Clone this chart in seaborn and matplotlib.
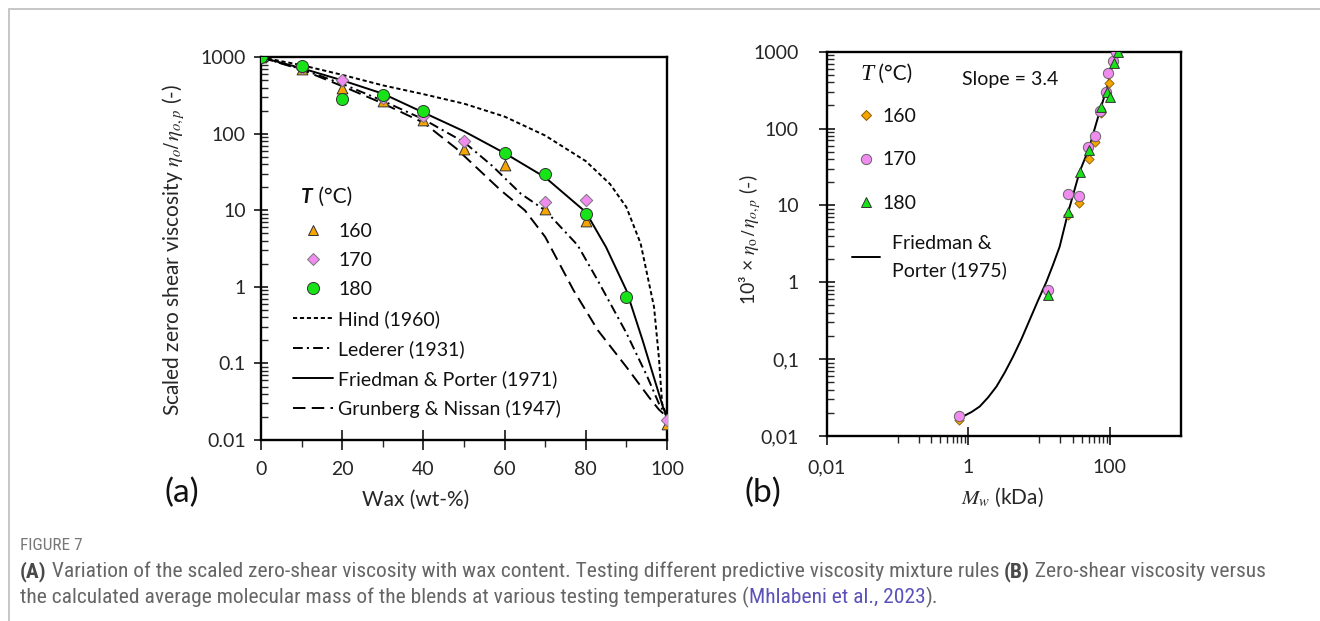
import numpy as np
import pandas as pd
import matplotlib
matplotlib.use("Agg")
import matplotlib.pyplot as plt
import seaborn as sns
from matplotlib.lines import Line2D
from matplotlib.ticker import FixedLocator, FixedFormatter, NullFormatter
from matplotlib import font_manager

# ---------------- data: panel (a) ----------------
wax_160 = [0, 10, 20, 30, 40, 50, 60, 70, 80, 100]
eta_160 = [1000, 700, 400, 270, 150, 64, 39, 10.5, 7.2, 0.016]
wax_170 = [0, 10, 20, 30, 40, 50, 70, 80, 100]
eta_170 = [1000, 720, 510, 293, 172, 81, 12.9, 13.7, 0.018]
wax_180 = [0, 10, 20, 30, 40, 60, 70, 80, 90]
eta_180 = [1000, 776, 284, 325, 200, 56, 29.5, 8.9, 0.73]

hind_x = [0, 10, 20, 30, 40, 50, 60, 70, 80, 86, 90, 93.5, 96.8, 98, 98.8, 100]
hind_y = [1000, 790, 590, 430, 330, 248, 168, 95, 44, 22, 11, 3.7, 0.55, 0.12, 0.03, 0.02]
led_x = [0, 10, 20, 30, 40, 50, 57, 64, 70, 78, 83, 90, 95, 98, 100]
led_y = [1000, 700, 450, 270, 155, 78, 38, 16.5, 10, 3.5, 1.2, 0.25, 0.07, 0.03, 0.02]
fp71_x = [0, 10, 20, 30, 40, 50, 60, 70, 80, 85, 90, 94, 97, 99, 100]
fp71_y = [1000, 720, 500, 335, 190, 108, 56, 27, 9.5, 3.3, 0.9, 0.2, 0.06, 0.027, 0.02]
gn_x = [0, 10, 20, 30, 40, 48, 59, 65, 70, 77, 83, 90, 95.6, 98, 100]
gn_y = [1000, 690, 420, 250, 140, 65, 18.4, 10, 4.5, 0.9, 0.27, 0.09, 0.036, 0.025, 0.02]

# ---------------- data: panel (b) ----------------
mw_160 = [0.74, 25.5, 37, 50, 61, 76, 97]
etb_160 = [0.016, 7.5, 10.7, 40, 66, 158, 395]
mw_170 = [0.74, 13.4, 25.5, 37, 49, 61, 73, 87, 94, 110, 123]
etb_170 = [0.018, 0.80, 14, 13.2, 58, 80, 170, 302, 523, 764, 1000]
mw_180 = [13.4, 25.5, 38, 50, 76, 91, 101, 114, 129]
etb_180 = [0.69, 8.3, 27, 52, 189, 300, 260, 707, 1000]
fp75_x = [0.845, 1.11, 1.45, 1.9, 2.5, 3.27, 4.29, 5.62, 7.36, 9.66, 12.6, 15.7,
          19.5, 25.5, 37.4, 50.6, 71.6, 89, 116, 122]
fp75_y = [0.018, 0.0205, 0.0242, 0.0317, 0.044, 0.067, 0.108, 0.182, 0.324, 0.58,
          1.0, 1.68, 2.9, 7.9, 27.5, 55, 166, 316, 861, 1000]

yt_vals = [0.01, 0.1, 1, 10, 100, 1000]
yt_a = ["0.01", "0.1", "1", "10", "100", "1000"]
yt_b = ["0,01", "0,1", "1", "10", "100", "1000"]
xt_b_vals = [0.01, 1, 100]
xt_b = ["0,01", "1", "100"]
temps = ["160", "170", "180"]

# ---------------- style ----------------
sns.set_theme(style="white")
plt.rcParams["font.family"] = ["Lato", "DejaVu Sans"]
plt.rcParams["mathtext.fontset"] = "stix"
plt.rcParams["lines.scale_dashes"] = False
plt.rcParams["text.color"] = "#111111"

ORANGE = "#f5a400"
PINK = "#f08cf0"
GREEN = "#18e318"
EDGE = "#333333"

W, H = 1320, 621
fig = plt.figure(figsize=(W / 100, H / 100), dpi=100)
fig.patch.set_facecolor("white")
axA = fig.add_axes([261 / W, 1 - 440 / H, 406 / W, 382.7 / H])
axB = fig.add_axes([826.7 / W, 1 - 436 / H, 354 / W, 384.3 / H])

DASH_HIND = (3, 2)
DASH_LED = (7, 3, 1.5, 3)
DASH_GN = (9, 4.5)


def curve(ax, x, y, dashes=None):
    sns.lineplot(x=x, y=y, ax=ax, color="black", lw=1.4, estimator=None, sort=False)
    ln = ax.lines[-1]
    if dashes is not None:
        ln.set_dashes(dashes)
    return ln


# ---- panel (a)
axA.set_yscale("log")
curve(axA, hind_x, hind_y, DASH_HIND)
curve(axA, led_x, led_y, DASH_LED)
curve(axA, fp71_x, fp71_y)
curve(axA, gn_x, gn_y, DASH_GN)
sns.scatterplot(x=wax_160, y=eta_160, ax=axA, marker="^", s=60, color=ORANGE,
                edgecolor=EDGE, linewidth=0.7, zorder=3)
sns.scatterplot(x=wax_170, y=eta_170, ax=axA, marker="D", s=40, color=PINK,
                edgecolor="#777777", linewidth=0.7, zorder=4)
sns.scatterplot(x=wax_180, y=eta_180, ax=axA, marker="o", s=75, color=GREEN,
                edgecolor=EDGE, linewidth=0.7, zorder=5)
axA.set_xlim(0, 100)
axA.set_ylim(0.01, 1000)
axA.xaxis.set_major_locator(FixedLocator([0, 20, 40, 60, 80, 100]))
axA.xaxis.set_minor_locator(FixedLocator([10, 30, 50, 70, 90]))
axA.yaxis.set_major_locator(FixedLocator(yt_vals))
axA.yaxis.set_major_formatter(FixedFormatter(yt_a))
minor_y = [m * 10.0 ** e for e in range(-2, 3) for m in range(2, 10)]
axA.yaxis.set_minor_locator(FixedLocator(minor_y))
axA.yaxis.set_minor_formatter(NullFormatter())
axA.tick_params(axis="y", which="major", direction="inout", length=10, width=1.3,
                pad=6, labelsize=14, left=True)
axA.tick_params(axis="y", which="minor", direction="in", length=5, width=1.0, left=True)
axA.tick_params(axis="x", which="major", direction="inout", length=14, width=1.3,
                pad=8, labelsize=14, bottom=True)
axA.tick_params(axis="x", which="minor", direction="out", length=5, width=1.0, bottom=True)

# ---- panel (b)
axB.set_xscale("log")
axB.set_yscale("log")
curve(axB, fp75_x, fp75_y)
sns.scatterplot(x=mw_160, y=etb_160, ax=axB, marker="D", s=22, color=ORANGE,
                edgecolor="#8a5a00", linewidth=0.6, zorder=3)
sns.scatterplot(x=mw_170, y=etb_170, ax=axB, marker="o", s=55, color=PINK,
                edgecolor="#666666", linewidth=0.7, zorder=4)
sns.scatterplot(x=mw_180, y=etb_180, ax=axB, marker="^", s=50, color=GREEN,
                edgecolor=EDGE, linewidth=0.7, zorder=5)
axB.set_xlim(0.01, 1000)
axB.set_ylim(0.01, 1000)
axB.xaxis.set_major_locator(FixedLocator(xt_b_vals))
axB.xaxis.set_major_formatter(FixedFormatter(xt_b))
minor_x = [m * 0.1 for m in range(1, 10)] + [m * 10.0 for m in range(1, 10)]
axB.xaxis.set_minor_locator(FixedLocator(minor_x))
axB.xaxis.set_minor_formatter(NullFormatter())
axB.yaxis.set_major_locator(FixedLocator(yt_vals))
axB.yaxis.set_major_formatter(FixedFormatter(yt_b))
axB.yaxis.set_minor_locator(FixedLocator(minor_y))
axB.yaxis.set_minor_formatter(NullFormatter())
axB.tick_params(axis="y", which="major", direction="inout", length=12, width=1.3,
                pad=14, labelsize=14, left=True)
axB.tick_params(axis="y", which="minor", direction="in", length=5, width=1.0, left=True)
axB.tick_params(axis="x", which="major", direction="inout", length=13, width=1.3,
                pad=10, labelsize=14, bottom=True)
axB.tick_params(axis="x", which="minor", direction="out", length=5, width=1.0, bottom=True)

for ax in (axA, axB):
    ax.set_facecolor("white")
    for sp in ax.spines.values():
        sp.set_visible(True)
        sp.set_color("black")
        sp.set_linewidth(1.7)

# ---- axis labels
axA.set_xlabel("Wax (wt-%)", fontsize=15, va="center", ha="center")
axA.xaxis.set_label_coords(416 / W, 1 - 500 / H, transform=fig.transFigure)
axA.set_ylabel(r"Scaled zero shear viscosity $\eta_o/\,\eta_{o,p}$ (-)", fontsize=15,
               va="center", ha="center")
axA.yaxis.set_label_coords(174 / W, 1 - 250 / H, transform=fig.transFigure)
axB.set_xlabel(r"$M_w$ (kDa)", fontsize=15, va="center", ha="center")
axB.xaxis.set_label_coords(1002 / W, 1 - 497 / H, transform=fig.transFigure)
axB.set_ylabel(r"10³ × $\eta_{\mathrm{o}}\,/\,\eta_{o,p}$ (-)", fontsize=14,
               va="center", ha="center")
axB.yaxis.set_label_coords(750 / W, 1 - 240 / H, transform=fig.transFigure)

fig.text(182 / W, 1 - 493 / H, "(a)", fontsize=24, ha="center", va="center")
fig.text(763 / W, 1 - 493 / H, "(b)", fontsize=24, ha="center", va="center")

# ---- legends
def mk(marker, color, ms, edge=EDGE):
    return Line2D([], [], ls="none", marker=marker, ms=ms, mfc=color, mec=edge, mew=0.7)


def ln(dashes=None):
    l = Line2D([], [], color="black", lw=1.4)
    if dashes is not None:
        l.set_dashes(dashes)
    return l


hA = [mk("^", ORANGE, 7.7), mk("D", PINK, 6.3, "#777777"), mk("o", GREEN, 8.7),
      ln(DASH_HIND), ln(DASH_LED), ln(), ln(DASH_GN)]
lA = temps + ["Hind (1960)", "Lederer (1931)", "Friedman & Porter (1971)",
              "Grunberg & Nissan (1947)"]
legA = axA.legend(hA, lA, loc="upper left", bbox_to_anchor=(293 / W, 1 - 223 / H),
                  bbox_transform=fig.transFigure, frameon=False, fontsize=14,
                  handlelength=2.06, handletextpad=0.28, labelspacing=0.62,
                  borderpad=0, borderaxespad=0)

hB1 = [mk("D", ORANGE, 4.7, "#8a5a00"), mk("o", PINK, 7.4, "#666666"), mk("^", GREEN, 7.1)]
legB1 = axB.legend(hB1, temps, loc="upper left", bbox_to_anchor=(856 / W, 1 - 108 / H),
                   bbox_transform=fig.transFigure, frameon=False, fontsize=14,
                   handlelength=1.0, handletextpad=0.36, labelspacing=1.36,
                   borderpad=0, borderaxespad=0)
axB.add_artist(legB1)
legB2 = axB.legend([ln()], ["Friedman &\nPorter (1975)"], loc="upper left",
                   bbox_to_anchor=(852 / W, 1 - 235 / H), bbox_transform=fig.transFigure,
                   frameon=False, fontsize=14, handlelength=1.44, handletextpad=0.6,
                   borderpad=0, borderaxespad=0)
for t in legB2.get_texts():
    t.set_linespacing(1.6)

renderer = fig.canvas.get_renderer()


def seq(x, y, pieces):
    for s, kw in pieces:
        t = fig.text(x / W, 1 - y / H, s, va="baseline", ha="left", **kw)
        x += t.get_window_extent(renderer).width
    return x


seq(301, 203, [("T", dict(fontsize=15, fontweight="bold", fontstyle="italic")),
               (" (°C)", dict(fontsize=15))])
seq(860, 80, [("T", dict(fontsize=17, family=["Liberation Serif", "DejaVu Serif"],
                         fontstyle="italic")),
              (" (°C)", dict(fontsize=15))])
fig.text(962 / W, 1 - 85 / H, "Slope = 3.4", fontsize=14, va="baseline", ha="left")

# ---- frame lines
fig.add_artist(Line2D([9 / W, 9 / W], [0, 1 - 9 / H], transform=fig.transFigure,
                      color="#c6c6c6", lw=1.4))
fig.add_artist(Line2D([9 / W, 1], [1 - 9 / H, 1 - 9 / H], transform=fig.transFigure,
                      color="#c6c6c6", lw=1.4))

# ---- caption
names = {f.name for f in font_manager.fontManager.ttflist}
cap_font = next((f for f in ["Liberation Sans Narrow", "Roboto Condensed", "Liberation Sans"]
                 if f in names), "DejaVu Sans")
GRAY = "#666666"
BOLD = "#4a4a4a"
LINK = "#5a52b8"
line1 = [("(A)", dict(color=BOLD, fontweight="bold")),
         (" Variation of the scaled zero-shear viscosity with wax content. Testing different "
          "predictive viscosity mixture rules ", dict(color=GRAY)),
         ("(B)", dict(color=BOLD, fontweight="bold")),
         (" Zero-shear viscosity versus", dict(color=GRAY))]
line2 = [("the calculated average molecular mass of the blends at various testing "
          "temperatures (", dict(color=GRAY)),
         ("Mhlabeni et al., 2023", dict(color=LINK)),
         (").", dict(color=GRAY))]

tmp = fig.text(0, 0, "".join(p[0] for p in line1), fontsize=10, family=cap_font)
w10 = tmp.get_window_extent(renderer).width
tmp.remove()
cap_size = 10 * (1236 / w10)
for p in line1 + line2:
    p[1].update(fontsize=cap_size, family=cap_font)
fig.text(20 / W, 1 - 550 / H, "FIGURE 7", fontsize=cap_size * 0.8, family=cap_font,
         color="#777777", va="baseline")
seq(20, 577, line1)
seq(20, 603, line2)

fig.savefig("out.png", dpi=100, facecolor="white")
